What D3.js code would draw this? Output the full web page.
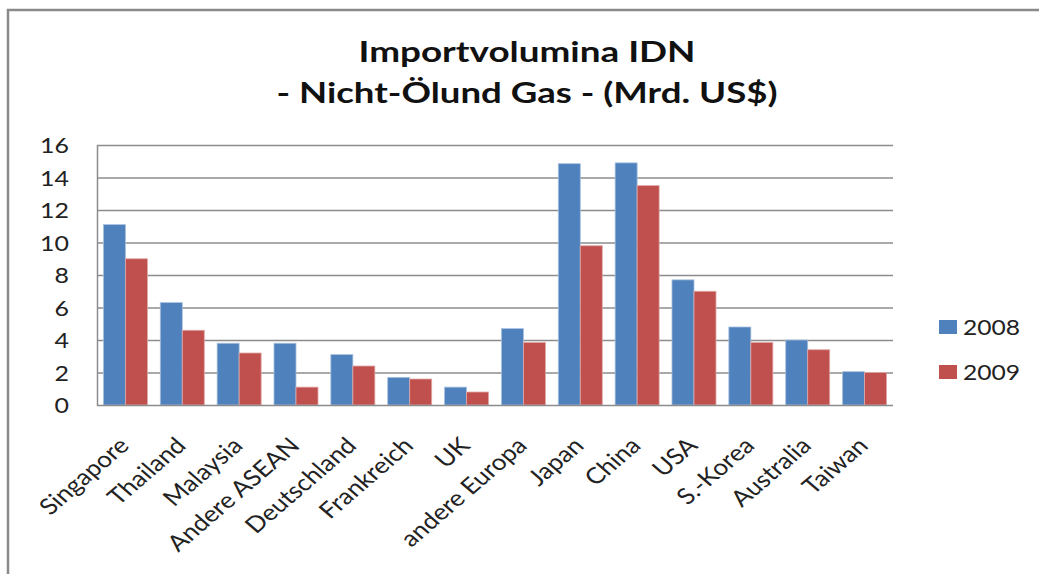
<!DOCTYPE html>
<html>
<head>
<meta charset="utf-8">
<script src="https://cdn.jsdelivr.net/npm/d3@7"></script>
<style>
  html, body { margin: 0; padding: 0; background: #fff; }
  svg { display: block; }
</style>
</head>
<body>
<svg id="chart" width="1039" height="574"></svg>
<script>
const categories = ["Singapore", "Thailand", "Malaysia", "Andere ASEAN", "Deutschland", "Frankreich", "UK", "andere Europa", "Japan", "China", "USA", "S.-Korea", "Australia", "Taiwan"];
const seriesNames = ["2008", "2009"];
const values2008 = [11.1, 6.3, 3.8, 3.8, 3.1, 1.7, 1.1, 4.7, 14.85, 14.9, 7.7, 4.8, 4.0, 2.05];
const values2009 = [9.0, 4.6, 3.2, 1.1, 2.4, 1.6, 0.8, 3.85, 9.8, 13.5, 7.0, 3.85, 3.4, 2.0];
const yTicks = [0, 2, 4, 6, 8, 10, 12, 14, 16];
const titleLines = ["Importvolumina IDN", "- Nicht-Ölund Gas - (Mrd. US$)"];
const colors = ["#4F81BD", "#C0504D"];

const svg = d3.select("#chart");
const font = "Lato, 'Noto Sans', sans-serif";
const stretch = 1.16;

// outer frame
svg.append("rect").attr("x", 8).attr("y", 10).attr("width", 1200).attr("height", 800)
  .attr("fill", "none").attr("stroke", "#8a8a8a").attr("stroke-width", 2.5);

const plot = { left: 97, right: 893, top: 145, bottom: 405 };

const x = d3.scaleBand().domain(categories).range([plot.left, plot.right])
  .paddingInner(0.226).paddingOuter(0.113);
const xs = d3.scaleBand().domain(seriesNames).range([0, x.bandwidth()]);
const y = d3.scaleLinear().domain([0, 16]).range([plot.bottom, plot.top]);

// gridlines
svg.append("g").selectAll("line").data(yTicks.filter(d => d > 0)).join("line")
  .attr("x1", plot.left).attr("x2", plot.right)
  .attr("y1", d => y(d) + 0.5).attr("y2", d => y(d) + 0.5)
  .attr("stroke", "#8c8c8c").attr("stroke-width", 1.3);

// bars
const data = categories.map((c, i) => ({ c, vals: [values2008[i], values2009[i]] }));
const groups = svg.append("g").selectAll("g").data(data).join("g")
  .attr("transform", d => `translate(${x(d.c)},0)`);
groups.selectAll("rect").data(d => d.vals.map((v, j) => ({ v, s: seriesNames[j], j }))).join("rect")
  .attr("x", d => xs(d.s)).attr("width", xs.bandwidth())
  .attr("y", d => y(d.v)).attr("height", d => y(0) - y(d.v))
  .attr("fill", d => colors[d.j])
  .attr("stroke", d => d.j === 0 ? "#a7c0de" : "#e0a9a8").attr("stroke-width", 0.8);

// axes lines
svg.append("line").attr("x1", plot.left + 0.5).attr("x2", plot.left + 0.5)
  .attr("y1", plot.top).attr("y2", plot.bottom + 1).attr("stroke", "#8c8c8c").attr("stroke-width", 1.5);
svg.append("line").attr("x1", plot.left).attr("x2", plot.right)
  .attr("y1", plot.bottom + 0.5).attr("y2", plot.bottom + 0.5).attr("stroke", "#8c8c8c").attr("stroke-width", 1.5);

// y tick labels via axis
const yAxis = d3.axisLeft(y).tickValues(yTicks).tickSize(0).tickPadding(0).tickFormat(d3.format("d"));
const yg = svg.append("g").attr("transform", `translate(69,0)`).call(yAxis);
yg.select(".domain").remove();
yg.selectAll("text").attr("font-family", font).attr("font-size", 21.5).attr("fill", "#222")
  .attr("dy", "0.36em")
  .attr("transform", `scale(${stretch},1)`)
  .attr("x", 0);

// x labels
const xAxis = d3.axisBottom(x).tickSize(0).tickPadding(0);
const xg = svg.append("g").attr("transform", `translate(0,${plot.bottom})`).call(xAxis);
xg.select(".domain").remove();
xg.selectAll("text")
  .attr("font-family", font).attr("font-size", 22.5).attr("fill", "#222")
  .attr("text-anchor", "end").attr("dy", 0).attr("y", 0)
  .attr("transform", `translate(5,42) scale(${stretch},1) rotate(-45)`);

// title
titleLines.forEach((t, i) => {
  svg.append("text").attr("x", 527).attr("y", i === 0 ? 62 : 103)
    .attr("text-anchor", "middle").attr("font-family", font).attr("font-weight", "bold")
    .attr("font-size", 28.5).attr("fill", "#111")
    .attr("textLength", i === 0 ? 337 : 501).attr("lengthAdjust", "spacingAndGlyphs")
    .text(t);
});

// legend
const legend = svg.append("g").selectAll("g").data(seriesNames).join("g")
  .attr("transform", (d, i) => `translate(939,${320 + i * 45})`);
legend.append("rect").attr("width", 18).attr("height", 14).attr("fill", (d, i) => colors[i]);
legend.append("text").attr("transform", `translate(24,15) scale(1.12,1)`)
  .attr("font-family", font).attr("font-size", 22).attr("fill", "#222").text(d => d);
</script>
</body>
</html>
